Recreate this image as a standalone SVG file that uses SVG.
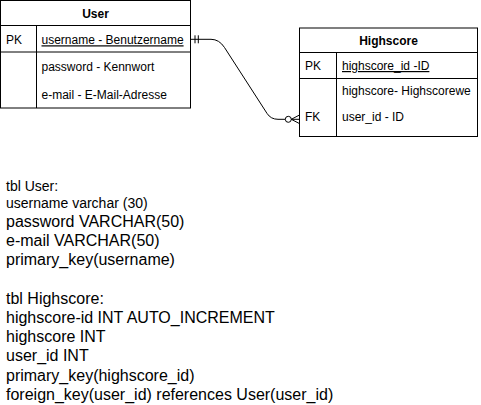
<svg xmlns="http://www.w3.org/2000/svg" width="481" height="405" viewBox="0 0 481 405">
<defs>
<style>
.box{fill:#fff;stroke:#000;stroke-width:1}
.ln{stroke:#000;stroke-width:1;fill:none}
.t{font-family:"Liberation Sans",Arial,sans-serif;font-size:12px;fill:#000}
.h{font-family:"Liberation Sans",Arial,sans-serif;font-size:12px;font-weight:bold;fill:#000;text-anchor:middle}
.u{text-decoration:underline}
.n{font-family:"Liberation Sans",Arial,sans-serif;fill:#000}
</style>
<clipPath id="cu"><rect x="37" y="26" width="149" height="82"/></clipPath>
<clipPath id="ch"><rect x="337" y="53" width="139" height="84"/></clipPath>
</defs>
<rect width="481" height="405" fill="#fff"/>
<g id="user">
<rect class="box" x="0.5" y="0.5" width="190" height="107.5"/>
<line class="ln" x1="0.5" y1="25.5" x2="190.5" y2="25.5"/>
<line class="ln" x1="0.5" y1="52" x2="190.5" y2="52"/>
<line class="ln" x1="36.5" y1="25.5" x2="36.5" y2="108"/>
<text class="h" x="95.5" y="18">User</text>
<text class="t" x="6" y="44.3">PK</text>
<g clip-path="url(#cu)">
<text class="t u" x="41.5" y="44.3">username - Benutzername</text>
<text class="t" x="41.5" y="70.5">password - Kennwort</text>
<text class="t" x="41.5" y="98.5">e-mail - E-Mail-Adresse</text>
</g>
</g>
<g id="highscore">
<rect class="box" x="299.5" y="28" width="178" height="108.5"/>
<line class="ln" x1="299.5" y1="52.5" x2="477.5" y2="52.5"/>
<line class="ln" x1="299.5" y1="78.5" x2="477.5" y2="78.5"/>
<line class="ln" x1="336.5" y1="52.5" x2="336.5" y2="136.5"/>
<text class="h" x="388.5" y="44.5">Highscore</text>
<text class="t" x="305" y="70">PK</text>
<text class="t" x="305" y="121.3">FK</text>
<g clip-path="url(#ch)">
<text class="t u" x="342" y="70">highscore_id -ID</text>
<text class="t" x="342" y="95">highscore- Highscorewe</text>
<text class="t" x="342" y="121.3">user_id - ID</text>
</g>
</g>
<g id="connectors">
<path class="ln" d="M190.5,39.3 L211,39.3 Q219.2,39.3 224.5,47.5 L267,113.4 Q270.8,119.3 278,119.3 L285.3,119.3"/>
<line class="ln" x1="195" y1="35.3" x2="195" y2="43.3"/>
<line class="ln" x1="198.3" y1="35.3" x2="198.3" y2="43.3"/>
<circle cx="288.3" cy="119.3" r="3" fill="#fff" stroke="#000" stroke-width="1"/>
<path class="ln" d="M291.3,119.3 L299.5,115 M291.3,119.3 L299.5,119.3 M291.3,119.3 L299.5,123.6"/>
</g>
<g id="notes">
<text class="n" x="6" y="191" font-size="14">tbl User:</text>
<text class="n" x="6" y="208" font-size="14">username varchar (30)</text>
<text class="n" x="6" y="226.5" font-size="16">password VARCHAR(50)</text>
<text class="n" x="6" y="245.7" font-size="16">e-mail VARCHAR(50)</text>
<text class="n" x="6" y="265" font-size="16">primary_key(username)</text>
<text class="n" x="6" y="303.5" font-size="16">tbl Highscore:</text>
<text class="n" x="6" y="322.7" font-size="16">highscore-id INT AUTO_INCREMENT</text>
<text class="n" x="6" y="342" font-size="16">highscore INT</text>
<text class="n" x="6" y="361.2" font-size="16">user_id INT</text>
<text class="n" x="6" y="380.5" font-size="16">primary_key(highscore_id)</text>
<text class="n" x="6" y="399.7" font-size="16">foreign_key(user_id) references User(user_id)</text>
</g>
</svg>
